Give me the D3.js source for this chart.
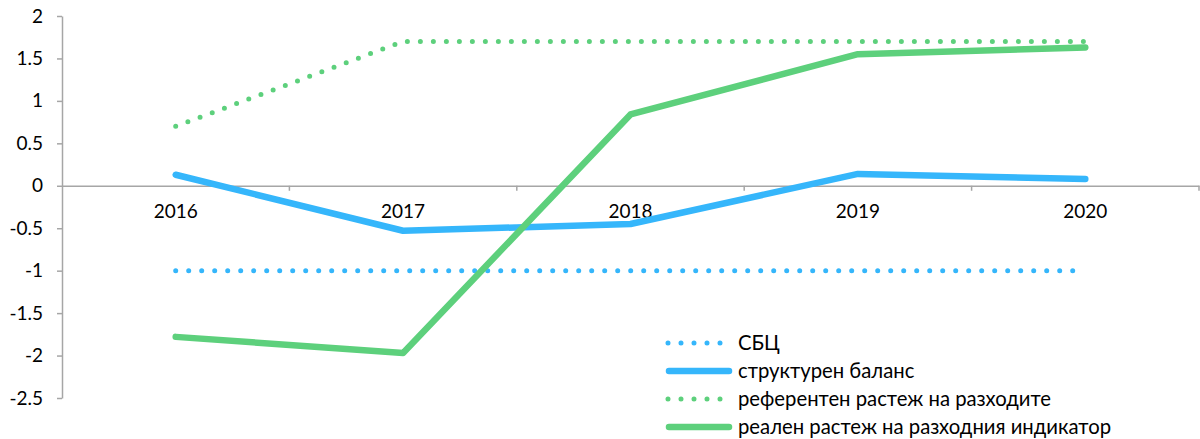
<!DOCTYPE html>
<html>
<head>
<meta charset="utf-8">
<script src="https://cdn.jsdelivr.net/npm/d3@7"></script>
<style>
  body { margin: 0; background: #fff; }
  text { font-family: Lato, "Open Sans", sans-serif; fill: #000; }
</style>
</head>
<body>
<svg id="chart"></svg>
<script>
const years = ['2016', '2017', '2018', '2019', '2020'];
const sbc = [-1, -1, -1, -1, -1];
const structural = [0.13, -0.53, -0.45, 0.14, 0.08];
const reference = [0.7, 1.7, 1.7, 1.7, 1.7];
const actual = [-1.78, -1.97, 0.84, 1.55, 1.63];
const yTicks = [2, 1.5, 1, 0.5, 0, -0.5, -1, -1.5, -2, -2.5];

const blue = '#35b6fb', green = '#5dd07c';
const font = 'Lato, "Open Sans", sans-serif';

const series = [
  {name: 'СБЦ', values: sbc, color: blue, dotted: true},
  {name: 'структурен баланс', values: structural, color: blue, dotted: false},
  {name: 'референтен растеж на разходите', values: reference, color: green, dotted: true},
  {name: 'реален растеж на разходния индикатор', values: actual, color: green, dotted: false}
];

const width = 1200, height = 439;
const svg = d3.select('#chart').attr('width', width).attr('height', height);

const x = d3.scaleBand().domain(years).range([62, 1199]);
const y = d3.scaleLinear().domain([-2.5, 2]).range([398, 16]);

// y axis
const yAxis = svg.append('g')
  .attr('transform', 'translate(62,0)')
  .call(d3.axisLeft(y).tickValues(yTicks).tickSize(5).tickSizeOuter(0)
    .tickFormat(d => String(d)));
yAxis.select('.domain').attr('stroke', '#a6a6a6').attr('stroke-width', 1.5);
yAxis.selectAll('.tick line').attr('stroke', '#a6a6a6').attr('stroke-width', 1.5);
yAxis.selectAll('.tick text').attr('x', -19).style('font-size', '19px')
  .style('font-family', font);

// x axis at zero, labels below
const xAxis = svg.append('g')
  .attr('transform', `translate(0,${y(0)})`)
  .call(d3.axisBottom(x).tickSize(0).tickSizeOuter(0).tickPadding(19));
xAxis.select('.domain').attr('stroke', '#a6a6a6').attr('stroke-width', 1.5);
xAxis.selectAll('.tick text').style('font-size', '19px')
  .style('font-family', font);
const bounds = years.map(d => x(d)).concat([x.range()[1]]).slice(1);
xAxis.selectAll('.bound').data(bounds).enter().append('line')
  .attr('x1', d => d).attr('x2', d => d)
  .attr('y1', 0).attr('y2', 5)
  .attr('stroke', '#a6a6a6').attr('stroke-width', 1.5);

const line = d3.line()
  .x((d, i) => x(years[i]) + x.bandwidth() / 2)
  .y(d => y(d));

function styleLine(sel, s) {
  sel.attr('fill', 'none')
    .attr('stroke', s.color)
    .attr('stroke-linecap', 'round')
    .attr('stroke-linejoin', 'round');
  if (s.dotted) sel.attr('stroke-width', 5).attr('stroke-dasharray', '0 13');
  else sel.attr('stroke-width', 6.5);
}

series.forEach(s => {
  svg.append('path').datum(s.values).attr('d', line).call(styleLine, s);
});

// legend
const legend = svg.append('g');
const rowY = [343, 371, 399, 427];
series.forEach((s, i) => {
  const g = legend.append('g').attr('transform', `translate(0,${rowY[i]})`);
  g.append('path').attr('d', s.dotted ? 'M668,0L731,0' : 'M669,0L729,0').call(styleLine, s);
  g.append('text').attr('x', 738).attr('y', 0).attr('dy', '0.35em')
    .style('font-size', '20.3px').style('font-family', font).text(s.name);
});
</script>
</body>
</html>
